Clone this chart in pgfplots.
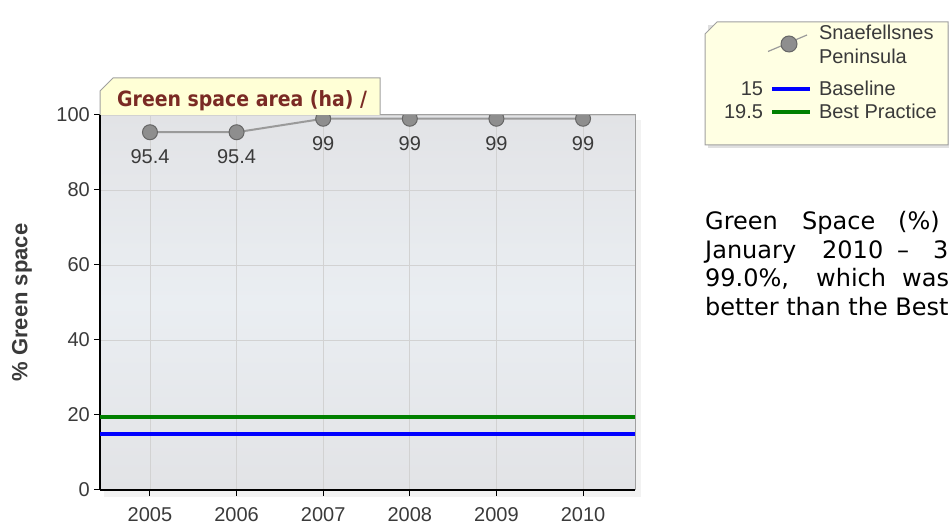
\documentclass[border=0pt]{standalone}
\usepackage{pgfplots}
\pgfplotsset{compat=1.18}
\usepackage{fontspec}
\setmainfont{Liberation Sans}
\newfontfamily\verdana{DejaVu Sans}
\newfontfamily\tahoma{DejaVu Sans Condensed}
\definecolor{bgtop}{HTML}{E2E3E6}
\definecolor{bgmid}{HTML}{EAEEF2}
\definecolor{tabfill}{HTML}{FFFFD6}
\definecolor{legfill}{HTML}{FFFFE3}
\definecolor{titlered}{HTML}{7A2A24}
\definecolor{ptgray}{HTML}{8E8E8E}
\definecolor{ptedge}{HTML}{666666}
\definecolor{lngray}{HTML}{9A9A9A}
\definecolor{txtgray}{HTML}{3A3A3A}
\definecolor{bordergray}{HTML}{A0A0A0}
\definecolor{gridgray}{HTML}{D2D2D2}
\definecolor{bestgreen}{HTML}{008000}
\definecolor{baseblue}{HTML}{0000FF}
\begin{document}
\begin{tikzpicture}[x=1pt,y=1pt]
\useasboundingbox (0,0) rectangle (949,524);
\clip (0,0) rectangle (949,524);
% legend box
\fill[black!12] (708,376) rectangle (951,499);
\filldraw[fill=legfill, draw=bordergray, line width=1pt] (705,379) -- (705,490) -- (717,502) -- (948,502) -- (948,379) -- cycle;
% faint shadow of the plot area
\fill[black!5] (104,27) rectangle (641,404);
\begin{axis}[
  at={(100pt,34pt)}, anchor=south west, scale only axis,
  width=535pt, height=375pt,
  xmin=2004.423, xmax=2010.6, ymin=0, ymax=100,
  xtick={2005,2006,2007,2008,2009,2010}, ytick={0,20,40,60,80,100},
  /pgf/number format/.cd, 1000 sep={}, assume math mode=true, /pgfplots/.cd,
  tick label style={font=\fontsize{20}{24}\selectfont, text=txtgray},
  yticklabel style={anchor=east, inner sep=0pt, xshift=-4pt},
  xticklabel style={anchor=north, inner sep=0pt, yshift=-11pt},
  axis x line*=bottom, axis y line*=left,
  axis line style={black, line width=1.5pt},
  tick align=outside, major tick length=6pt,
  tick style={black, line width=1pt},
  grid=major, grid style={gridgray, line width=0.8pt},
  axis background/.style={top color=bgtop, bottom color=bgtop, middle color=bgmid},
  ylabel={\% Green space},
  ylabel style={font=\bfseries\fontsize{22}{26}\selectfont, text=txtgray,
    at={(axis description cs:-0.1458,0.5)}, anchor=center},
  clip marker paths=true,
  legend style={at={(axis description cs:1.1402,1.24)}, anchor=north west,
    draw=none, fill=none, inner sep=0pt, outer sep=0pt,
    font=\fontsize{20}{24}\selectfont, text=txtgray,
    nodes={inner sep=0pt}, cells={anchor=west, align=left},
    column sep=7pt, row sep=0pt},
]
\addplot[color=lngray, line width=2pt, mark=*, mark size=7.5pt,
  mark options={fill=ptgray, draw=ptedge, line width=1pt},
  nodes near coords,
  every node near coord/.append style={anchor=north, inner sep=0pt, yshift=-17pt,
    font=\fontsize{20}{24}\selectfont, text=txtgray},
  legend image code/.code={
    \path[draw=none, fill=none] (-100pt,-33pt) rectangle (0pt,20pt);
    \draw[color=lngray, line width=1.2pt] (-42pt,-6.5pt) -- (-3pt,10pt);
    \draw[fill=ptgray, draw=ptedge, line width=1pt] (-21pt,1pt) circle (8pt);
  }]
  coordinates {(2005,95.4) (2006,95.4) (2007,99) (2008,99) (2009,99) (2010,99)};
\addlegendentry{Snaefellsnes\\Peninsula}
\addplot[color=baseblue, line width=4pt,
  legend image code/.code={
    \path[draw=none, fill=none] (-100pt,-11.5pt) rectangle (0pt,11.5pt);
    \draw[color=baseblue, line width=4pt] (-38pt,0pt) -- (0pt,0pt);
    \node[anchor=east, inner sep=0pt, draw=none, text=txtgray] at (-47pt,0pt) {15};
  }]
  coordinates {(2004.423,15) (2010.6,15)};
\addlegendentry{Baseline}
\addplot[color=bestgreen, line width=4pt,
  legend image code/.code={
    \path[draw=none, fill=none] (-100pt,-11.5pt) rectangle (0pt,11.5pt);
    \draw[color=bestgreen, line width=4pt] (-38pt,0pt) -- (0pt,0pt);
    \node[anchor=east, inner sep=0pt, draw=none, text=txtgray] at (-47pt,0pt) {19.5};
  }]
  coordinates {(2004.423,19.5) (2010.6,19.5)};
\addlegendentry{Best Practice}
\end{axis}
% top and right border of plot area
\draw[bordergray, line width=1pt] (100,409) -- (635,409) -- (635,34);
% title tab
\filldraw[fill=tabfill, draw=bordergray, line width=1pt] (100,409) -- (100,433) -- (113,446) -- (380,446) -- (380,409);
\node[anchor=base west, inner sep=0pt, text=titlered,
  font=\tahoma\bfseries\fontsize{21}{25}\selectfont] at (117,417) {Green space area (ha) /};
% descriptive text
\begin{scope}[every node/.style={anchor=base west, inner sep=0pt, font=\verdana\fontsize{24}{28}\selectfont, text=black}]
\node at (705,294) {Green}; \node at (802,294) {Space}; \node at (898,294) {(\%)}; \node at (960,294) {for};
\node at (705,265.5) {January}; \node at (822,265.5) {2010}; \node at (897,265.5) {–}; \node at (933,265.5) {31};
\node at (705,237) {99.0\%,}; \node at (816,237) {which}; \node at (902,237) {was};
\node at (705,208.5) {better than the Best Practice};
\end{scope}
\end{tikzpicture}
\end{document}
